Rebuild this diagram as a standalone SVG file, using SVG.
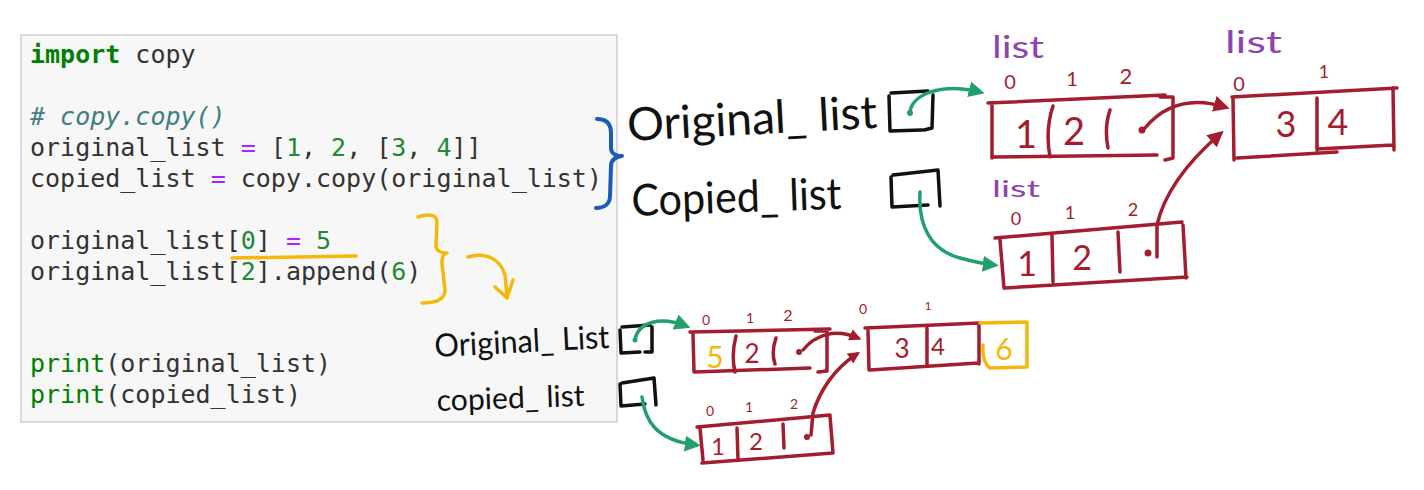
<svg xmlns="http://www.w3.org/2000/svg" width="1424" height="490" viewBox="0 0 1424 490">
<style>
.code{font-family:"DejaVu Sans Mono","Liberation Mono",monospace;font-size:25px;fill:#333}
.kw{fill:#008000;font-weight:bold}
.cm{fill:#408080;font-style:italic}
.op{fill:#AA22FF}
.nu{fill:#1e8a36}
.bi{fill:#008000}
.hand{font-family:"Lato","Noto Sans",sans-serif;fill:#111}
.blk{stroke:#111;fill:none;stroke-width:3.5;stroke-linecap:round;stroke-linejoin:round}
.red{stroke:#a31d2f;fill:none;stroke-width:3.5;stroke-linecap:round;stroke-linejoin:round}
.redt{fill:#a31d2f;font-family:"Lato","Noto Sans",sans-serif;text-anchor:middle}
.yel{stroke:#f4b80c;fill:none;stroke-width:3.5;stroke-linecap:round;stroke-linejoin:round}
.yelt{fill:#f4b80c;font-family:"Lato","Noto Sans",sans-serif;text-anchor:middle}
.pur{fill:#8e44b0;font-family:"Lato","Noto Sans",sans-serif}
.grn{stroke:#22a06b;fill:none;stroke-width:3.5;stroke-linecap:round}
.blu{stroke:#1a5cb8;fill:none;stroke-width:4;stroke-linecap:round;stroke-linejoin:round}
</style>
<defs>
<marker id="ag" viewBox="0 0 10 10" refX="7" refY="5" markerWidth="16" markerHeight="16" markerUnits="userSpaceOnUse" orient="auto"><path d="M0 0 L10 5 L0 10 z" fill="#22a06b"/></marker>
<marker id="ar" viewBox="0 0 10 10" refX="7" refY="5" markerWidth="16" markerHeight="16" markerUnits="userSpaceOnUse" orient="auto"><path d="M0 0 L10 5 L0 10 z" fill="#a31d2f"/></marker>
<marker id="ars" viewBox="0 0 10 10" refX="7" refY="5" markerWidth="12" markerHeight="12" markerUnits="userSpaceOnUse" orient="auto"><path d="M0 0 L10 5 L0 10 z" fill="#a31d2f"/></marker>
</defs>
<rect width="1424" height="490" fill="#fff"/>

<g id="code-panel">
<rect x="21" y="35" width="596" height="387" fill="#f7f7f7" stroke="#cfcfcf" stroke-width="1.5"/>
<text class="code" x="30" y="63"><tspan class="kw">import</tspan> copy</text>
<text class="code" x="30" y="125"><tspan class="cm"># copy.copy()</tspan></text>
<text class="code" x="30" y="156">original_list <tspan class="op">=</tspan> [<tspan class="nu">1</tspan>, <tspan class="nu">2</tspan>, [<tspan class="nu">3</tspan>, <tspan class="nu">4</tspan>]]</text>
<text class="code" x="30" y="187">copied_list <tspan class="op">=</tspan> copy.copy(original_list)</text>
<text class="code" x="30" y="249">original_list[<tspan class="nu">0</tspan>] <tspan class="op">=</tspan> <tspan class="nu">5</tspan></text>
<text class="code" x="30" y="280">original_list[<tspan class="nu">2</tspan>].append(<tspan class="nu">6</tspan>)</text>
<text class="code" x="30" y="372"><tspan class="bi">print</tspan>(original_list)</text>
<text class="code" x="30" y="403"><tspan class="bi">print</tspan>(copied_list)</text>
</g>

<g id="annotations">
<path class="yel" d="M232 258 L356 256"/>
<path class="blu" d="M597 119 C606 119 611 123 611 133 L611 148 C611 153 615 156 622 156 C615 157 611 160 611 166 L610 196 C610 204 604 208 596 208"/>
<path class="yel" d="M418 217 C430 213 437 215 437 222 L436 246 C436 250 440 253 447 253 C442 255 442 258 442 264 L445 290 C445 300 435 303 422 303"/>
<path class="yel" d="M468 257 C485 252 500 258 505 275 L507 296 M495 287 L507 298 L513 280"/>
</g>

<g id="var-original-top">
<text class="hand" x="628" y="141" font-size="46" textLength="250" lengthAdjust="spacingAndGlyphs" transform="rotate(-3 628 141)">Original_ list</text>
<path class="blk" d="M891 93 L928 91 M933 95 L932 128 L924 130 M889 96 L890 131 L922 130"/>
</g>
<g id="var-copied-top">
<text class="hand" x="632" y="216" font-size="44" textLength="210" lengthAdjust="spacingAndGlyphs" transform="rotate(-2 632 216)">Copied_ list</text>
<path class="blk" d="M893 175 L938 170 L940 206 M891 177 L892 207 L928 205"/>
</g>

<g id="list-original-top">
<text class="pur" x="992" y="58" font-size="30" textLength="52" lengthAdjust="spacingAndGlyphs">list</text>
<text class="redt" x="1010" y="89" font-size="20">0</text>
<text class="redt" x="1072" y="86" font-size="20">1</text>
<text class="redt" x="1126" y="84" font-size="22">2</text>
<path class="red" d="M988 103 L1165 95 M992 105 L992 158 M993 157 L1157 155 M1160 97 L1173 97 L1173 158 L1165 160 M1053 106 Q1045 130 1050 157 M1110 110 Q1104 128 1108 148"/>
<text class="redt" x="1026" y="148" font-size="38">1</text>
<text class="redt" x="1074" y="145" font-size="38">2</text>
<circle cx="1142" cy="130" r="3.5" fill="#a31d2f"/>
</g>

<g id="list-inner-top">
<text class="pur" x="1225" y="53" font-size="30" textLength="57" lengthAdjust="spacingAndGlyphs">list</text>
<text class="redt" x="1239" y="91" font-size="20">0</text>
<text class="redt" x="1324" y="78" font-size="18">1</text>
<path class="red" d="M1232 97 L1397 88 M1233 99 L1234 160 M1237 158 L1337 152 M1317 98 L1317 150 M1317 149 L1393 145 M1393 88 L1394 150"/>
<text class="redt" x="1286" y="137" font-size="36">3</text>
<text class="redt" x="1338" y="135" font-size="36">4</text>
</g>

<g id="list-copied-top">
<text class="pur" x="992" y="197" font-size="24" textLength="48" lengthAdjust="spacingAndGlyphs">list</text>
<text class="redt" x="1016" y="225" font-size="18">0</text>
<text class="redt" x="1070" y="219" font-size="18">1</text>
<text class="redt" x="1133" y="216" font-size="18">2</text>
<path class="red" d="M995 238 L1182 222 M1000 240 L1004 288 M1005 288 L1187 277 M1183 225 L1186 278 M1052 235 L1053 282 M1118 232 L1120 272"/>
<text class="redt" x="1027" y="276" font-size="34">1</text>
<text class="redt" x="1082" y="270" font-size="34">2</text>
<circle cx="1148" cy="253" r="3.5" fill="#a31d2f"/>
</g>

<g id="var-original-bottom">
<text class="hand" x="435" y="357" font-size="32" textLength="175" lengthAdjust="spacingAndGlyphs" transform="rotate(-3 435 357)">Original_ List</text>
<path class="blk" d="M622 327 L650 325 M652 327 L652 352 L645 352 M620 330 L621 353 L640 352"/>
</g>
<g id="var-copied-bottom">
<text class="hand" x="437" y="411" font-size="30" textLength="148" lengthAdjust="spacingAndGlyphs" transform="rotate(-2 437 411)">copied_ list</text>
<path class="blk" d="M622 383 L654 378 L656 405 M620 384 L621 406 L645 404"/>
</g>

<g id="list-original-bottom">
<text class="redt" x="706" y="325" font-size="14">0</text>
<text class="redt" x="750" y="323" font-size="14">1</text>
<text class="redt" x="788" y="321" font-size="16">2</text>
<path class="red" d="M690 332 L830 329 M693 334 L694 372 M695 372 L810 368 M815 331 L827 331 L827 371 L818 372 M736 336 Q731 355 735 372 M776 338 Q771 352 775 364"/>
<text class="yelt" x="715" y="368" font-size="30">5</text>
<text class="redt" x="752" y="363" font-size="26">2</text>
<circle cx="799" cy="352" r="3" fill="#a31d2f"/>
</g>

<g id="list-inner-bottom">
<text class="redt" x="863" y="314" font-size="14">0</text>
<text class="redt" x="928" y="310" font-size="12">1</text>
<path class="red" d="M865 328 L980 323 M868 330 L869 370 M870 370 L978 363 M927 328 L927 365 M979 325 L979 364"/>
<text class="redt" x="902" y="358" font-size="26">3</text>
<text class="redt" x="938" y="355" font-size="24">4</text>
<path class="yel" d="M980 323 L1027 322 L1027 367 L990 368 Q982 362 983 345"/>
<text class="yelt" x="1004" y="360" font-size="30">6</text>
</g>

<g id="list-copied-bottom">
<text class="redt" x="710" y="416" font-size="14">0</text>
<text class="redt" x="749" y="412" font-size="14">1</text>
<text class="redt" x="794" y="409" font-size="14">2</text>
<path class="red" d="M697 427 L830 415 M700 428 L703 460 M702 463 L833 453 M830 416 L833 453 M737 428 L738 460 M783 424 L784 448"/>
<text class="redt" x="718" y="455" font-size="24">1</text>
<text class="redt" x="756" y="450" font-size="24">2</text>
<circle cx="807" cy="437" r="3" fill="#a31d2f"/>
</g>

<g id="connectors">
<circle cx="910" cy="113" r="3" fill="#22a06b"/>
<path class="grn" d="M910 112 C912 95 940 82 980 92" marker-end="url(#ag)"/>
<path class="grn" d="M920 192 C918 225 930 250 960 258 C975 262 985 264 994 265" marker-end="url(#ag)"/>
<path class="red" d="M1145 128 C1160 110 1185 95 1225 107" marker-end="url(#ar)"/>
<path class="red" d="M1157 257 L1157 225 C1165 190 1190 160 1220 134" marker-end="url(#ar)"/>
<circle cx="635" cy="340" r="2.5" fill="#22a06b"/>
<path class="grn" d="M635 340 C638 322 660 316 686 326" marker-end="url(#ag)"/>
<path class="grn" d="M642 397 C645 420 655 440 696 445" marker-end="url(#ag)"/>
<path class="red" d="M803 350 C815 335 835 328 858 338" marker-end="url(#ars)"/>
<path class="red" d="M811 435 L813 413 C820 390 835 368 857 354" marker-end="url(#ars)"/>
</g>
</svg>
